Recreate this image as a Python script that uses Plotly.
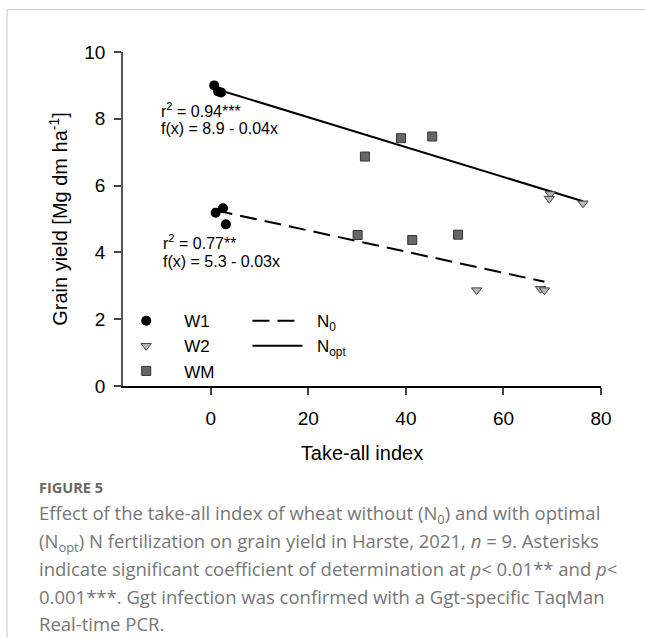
import plotly.graph_objects as go

# ---- data ----
w1_x_nopt = [0.7, 1.5, 2.1]
w1_y_nopt = [9.00, 8.82, 8.79]
wm_x_nopt = [31.6, 39.0, 45.4]
wm_y_nopt = [6.87, 7.42, 7.47]
w2_x_nopt = [69.6, 69.4, 76.3]
w2_y_nopt = [5.75, 5.61, 5.47]

w1_x_n0 = [1.0, 2.5, 3.1]
w1_y_n0 = [5.19, 5.32, 4.84]
wm_x_n0 = [30.1, 41.3, 50.7]
wm_y_n0 = [4.52, 4.37, 4.53]
w2_x_n0 = [54.5, 67.6, 68.4]
w2_y_n0 = [2.87, 2.91, 2.87]

# regression fits: (intercept, slope)
fit_n0 = (5.29, -0.0317)
fit_nopt = (8.94, -0.0447)

x_ticks = [0, 20, 40, 60, 80]
y_ticks = [0, 2, 4, 6, 8, 10]

# ---- layout geometry (pixels) ----
W, H = 645, 639
L, R_px = 122.5, 600.7
T, B_px = 52.3, 385.7
pw, ph = R_px - L, B_px - T


def px(xp):
    return (xp - L) / pw


def py(yp):
    return (B_px - yp) / ph


FONT = "Liberation Sans, Arial, sans-serif"
NB = "\u00a0\u00a0"

fig = go.Figure()


def fit_line(xs, fit):
    x0, x1 = min(xs), max(xs)
    return [x0, x1], [fit[0] + fit[1] * x0, fit[0] + fit[1] * x1]


all_x_n0 = w1_x_n0 + wm_x_n0 + w2_x_n0
all_x_nopt = w1_x_nopt + wm_x_nopt + w2_x_nopt
lx, ly = fit_line(all_x_n0, fit_n0)
fig.add_trace(go.Scatter(x=lx, y=ly, mode="lines", name=NB + "N<sub>0</sub>",
                         line=dict(color="black", width=2, dash="17px,8px"),
                         legend="legend2"))
lx, ly = fit_line(all_x_nopt, fit_nopt)
fig.add_trace(go.Scatter(x=lx, y=ly, mode="lines", name=NB + "N<sub>opt</sub>",
                         line=dict(color="black", width=2),
                         legend="legend2"))

fig.add_trace(go.Scatter(x=w1_x_nopt + w1_x_n0, y=w1_y_nopt + w1_y_n0,
                         mode="markers", name="W1",
                         marker=dict(symbol="circle", size=10, color="black",
                                     line=dict(width=0))))
fig.add_trace(go.Scatter(x=w2_x_nopt + w2_x_n0, y=w2_y_nopt + w2_y_n0,
                         mode="markers", name="W2",
                         marker=dict(symbol="triangle-down", size=9, color="#b8b8b8",
                                     line=dict(width=1, color="#444"))))
fig.add_trace(go.Scatter(x=wm_x_nopt + wm_x_n0, y=wm_y_nopt + wm_y_n0,
                         mode="markers", name="WM",
                         marker=dict(symbol="square", size=9, color="#666666",
                                     line=dict(width=1, color="#333"))))

annotations = [
    dict(x=-10.7, y=8.27, text="r<sup>2</sup> = 0.94***"),
    dict(x=-10.7, y=7.72, text="f(x) = 8.9 - 0.04x"),
    dict(x=-10.3, y=4.32, text="r<sup>2</sup> = 0.77**"),
    dict(x=-10.3, y=3.74, text="f(x) = 5.3 - 0.03x"),
]
for a in annotations:
    a.update(xref="x", yref="y", xanchor="left", yanchor="middle", showarrow=False,
             font=dict(family=FONT, size=16, color="black"))

CAP_FONT = "Open Sans, Noto Sans, sans-serif"
caption_lines = [
    "Effect of the take-all index of wheat without (N<sub>0</sub>) and with optimal",
    "(N<sub>opt</sub>) N fertilization on grain yield in Harste, 2021, <i>n</i> = 9. Asterisks",
    "indicate significant coefficient of determination at <i>p</i>&lt; 0.01** and <i>p</i>&lt;",
    "0.001***. Ggt infection was confirmed with a Ggt-specific TaqMan",
    "Real-time PCR.",
]
cap_y = [513, 541, 568, 596, 623]
annotations.append(dict(xref="paper", yref="paper", x=px(36), y=py(487), xanchor="left",
                        yanchor="middle", showarrow=False, text="<b>FIGURE 5</b>",
                        font=dict(family=CAP_FONT, size=14.5, color="#666666")))
for t, yy in zip(caption_lines, cap_y):
    annotations.append(dict(xref="paper", yref="paper", x=px(36), y=py(yy), xanchor="left",
                            yanchor="middle", showarrow=False, text=t,
                            font=dict(family=CAP_FONT, size=18.5, color="#767676")))

shapes = [
    dict(type="line", xref="paper", yref="paper", x0=px(6.5), x1=px(650), y0=py(10), y1=py(10),
         line=dict(color="#c8c8c8", width=1)),
    dict(type="line", xref="paper", yref="paper", x0=px(6.5), x1=px(6.5), y0=py(10), y1=py(637),
         line=dict(color="#c8c8c8", width=1)),
]

fig.update_layout(
    width=W, height=H,
    margin=dict(l=L, r=W - R_px, t=T, b=H - B_px, pad=0),
    paper_bgcolor="white", plot_bgcolor="white",
    font=dict(family=FONT, color="black"),
    showlegend=True,
    legend=dict(x=px(107.7), y=py(303), xanchor="left", yanchor="top",
                bgcolor="rgba(0,0,0,0)", font=dict(family=FONT, size=17),
                itemwidth=66, tracegroupgap=0, traceorder="normal"),
    legend2=dict(x=px(247), y=py(303), xanchor="left", yanchor="top",
                 bgcolor="rgba(0,0,0,0)", font=dict(family=FONT, size=17),
                 itemwidth=50, tracegroupgap=0, traceorder="normal"),
    annotations=annotations,
    shapes=shapes,
    xaxis=dict(range=[-18, 80], tickvals=x_ticks, ticks="outside", ticklen=7, tickwidth=1.5,
               showline=True, linecolor="black", linewidth=1.5, showgrid=False, zeroline=False,
               tickfont=dict(size=19), automargin=False, ticklabelstandoff=7,
               title=dict(text="Take-all index", font=dict(size=20), standoff=18)),
    yaxis=dict(range=[0, 10], tickvals=y_ticks, ticks="outside", ticklen=7, tickwidth=1.5,
               showline=True, linecolor="#555555", linewidth=1.5, showgrid=False, zeroline=False,
               tickfont=dict(size=19), automargin=False, ticklabelstandoff=5,
               title=dict(text="Grain yield [Mg dm ha<sup>-1</sup>]", font=dict(size=20),
                          standoff=11)),
)

fig.write_html("out.html", config={"displayModeBar": False},
               post_script="document.body.style.margin='0';")
